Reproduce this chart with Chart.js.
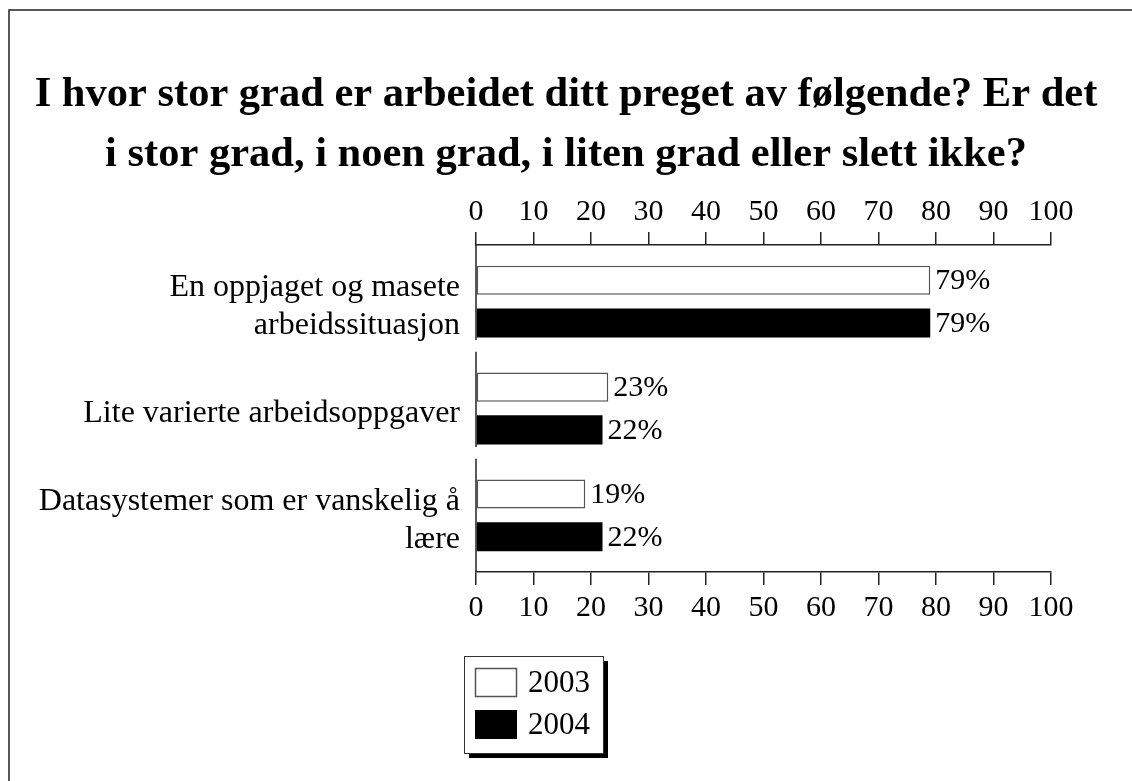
<!DOCTYPE html>
<html>
<head>
<meta charset="utf-8">
<script src="https://cdn.jsdelivr.net/npm/chart.js@4/dist/chart.umd.min.js"></script>
<style>
  html, body { margin: 0; padding: 0; background: #fff; }
  #wrap { width: 1132px; height: 781px; position: relative; }
</style>
</head>
<body>
<div id="wrap"><canvas id="chart"></canvas></div>
<script>
const titleLines = [
  "I hvor stor grad er arbeidet ditt preget av følgende? Er det",
  "i stor grad, i noen grad, i liten grad eller slett ikke?"
];
const categories = [
  ["En oppjaget og masete", "arbeidssituasjon"],
  "Lite varierte arbeidsoppgaver",
  ["Datasystemer som er vanskelig å", "lære"]
];
const years = ["2003", "2004"];
const values2003 = [79, 23, 19];
const values2004 = [79, 22, 22];
const axisMin = 0, axisMax = 100, axisStep = 10;

const FONT = "'Liberation Serif', 'Times New Roman', serif";

/* frame, title, y-axis pieces, value labels, legend */
const decor = {
  id: "decor",
  afterLayout(chart) {
    // categories sit a little inside the axis ends, like the original
    const y = chart.scales.y;
    y._startValue = -0.53;
    y._valueRange = categories.length + 0.06;
  },
  beforeDraw(chart) {
    const ctx = chart.ctx;
    ctx.save();
    ctx.strokeStyle = "#222";
    ctx.lineWidth = 1.5;
    ctx.beginPath();
    ctx.moveTo(9, chart.height);
    ctx.lineTo(9, 10);
    ctx.lineTo(chart.width, 10);
    ctx.stroke();

    ctx.fillStyle = "#000";
    ctx.font = "bold 42.5px " + FONT;
    ctx.textAlign = "center";
    ctx.textBaseline = "alphabetic";
    ctx.fillText(titleLines[0], 566, 106);
    ctx.fillText(titleLines[1], 566, 166);
    ctx.restore();
  },
  afterDatasetsDraw(chart) {
    const ctx = chart.ctx;
    const area = chart.chartArea;
    const yScale = chart.scales.y;
    const step = yScale.getPixelForValue(1) - yScale.getPixelForValue(0);
    ctx.save();
    // broken vertical axis, one piece per category
    ctx.strokeStyle = "#222";
    ctx.lineWidth = 1.5;
    categories.forEach((c, i) => {
      const mid = yScale.getPixelForValue(i);
      const top = Math.max(area.top, mid - step * 0.53);
      const bottom = Math.min(area.bottom, mid + step * 0.36);
      ctx.beginPath();
      ctx.moveTo(area.left, i === 0 ? area.top : top);
      ctx.lineTo(area.left, i === categories.length - 1 ? area.bottom : bottom);
      ctx.stroke();
    });

    // value labels
    ctx.fillStyle = "#000";
    ctx.font = "30px " + FONT;
    ctx.textAlign = "left";
    ctx.textBaseline = "middle";
    chart.data.datasets.forEach((ds, di) => {
      chart.getDatasetMeta(di).data.forEach((bar, i) => {
        ctx.fillText(ds.data[i] + "%", bar.x + 5, bar.y + 1);
      });
    });
    ctx.restore();
  },
  afterDraw(chart) {
    const ctx = chart.ctx;
    const lx = 464, ly = 656, lw = 139, lh = 97;
    ctx.save();
    ctx.fillStyle = "#000";
    ctx.fillRect(lx + 5, ly + 5, lw, lh);
    ctx.fillStyle = "#fff";
    ctx.fillRect(lx, ly, lw, lh);
    ctx.strokeStyle = "#333";
    ctx.lineWidth = 1;
    ctx.strokeRect(lx + 0.5, ly + 0.5, lw, lh);

    ctx.font = "31px " + FONT;
    ctx.textBaseline = "middle";
    ctx.textAlign = "left";
    chart.data.datasets.forEach((ds, i) => {
      const sy = 668 + i * 42;
      ctx.fillStyle = ds.backgroundColor;
      ctx.fillRect(475, sy, 42, 29);
      if (ds.borderWidth) {
        ctx.strokeStyle = ds.borderColor;
        ctx.lineWidth = 1.5;
        ctx.strokeRect(475.5, sy + 0.5, 41, 28);
      }
      ctx.fillStyle = "#000";
      ctx.fillText(ds.label, 528, sy + 16);
    });
    ctx.restore();
  }
};

const xTicks = {
  color: "#000",
  font: { family: FONT, size: 30 },
  stepSize: axisStep,
  autoSkip: false,
  maxRotation: 0
};

new Chart(document.getElementById("chart"), {
  type: "bar",
  data: {
    labels: categories,
    datasets: [
      { label: years[0], data: values2003, backgroundColor: "#fff", borderColor: "#555", borderWidth: 1.5, borderSkipped: false },
      { label: years[1], data: values2004, backgroundColor: "#000", borderWidth: 0 }
    ]
  },
  options: {
    indexAxis: "y",
    responsive: true,
    maintainAspectRatio: false,
    animation: false,
    events: [],
    categoryPercentage: 0.8,
    barPercentage: 0.68,
    layout: { padding: { left: 0, right: 81, top: 190, bottom: 149 } },
    plugins: { legend: { display: false }, title: { display: false }, tooltip: { enabled: false } },
    scales: {
      x: {
        position: "bottom",
        min: axisMin, max: axisMax,
        grid: { drawOnChartArea: false, drawTicks: true, tickLength: 13, color: "#222", lineWidth: 1.5 },
        border: { display: true, color: "#222", width: 1.5 },
        ticks: Object.assign({ padding: 5 }, xTicks),
        afterFit(s) { s.height = 60; }
      },
      x2: {
        position: "top",
        min: axisMin, max: axisMax,
        grid: { drawOnChartArea: false, drawTicks: true, tickLength: 13, color: "#222", lineWidth: 1.5 },
        border: { display: true, color: "#222", width: 1.5 },
        ticks: Object.assign({ padding: 2 }, xTicks),
        afterFit(s) { s.height = 55; }
      },
      y: {
        grid: { display: false },
        border: { display: false },
        ticks: { color: "#000", font: { family: FONT, size: 32, lineHeight: 1.19 }, padding: 8, labelOffset: 5, autoSkip: false },
        afterFit(s) { s.width = 476; }
      }
    }
  },
  plugins: [decor]
});
</script>
</body>
</html>
